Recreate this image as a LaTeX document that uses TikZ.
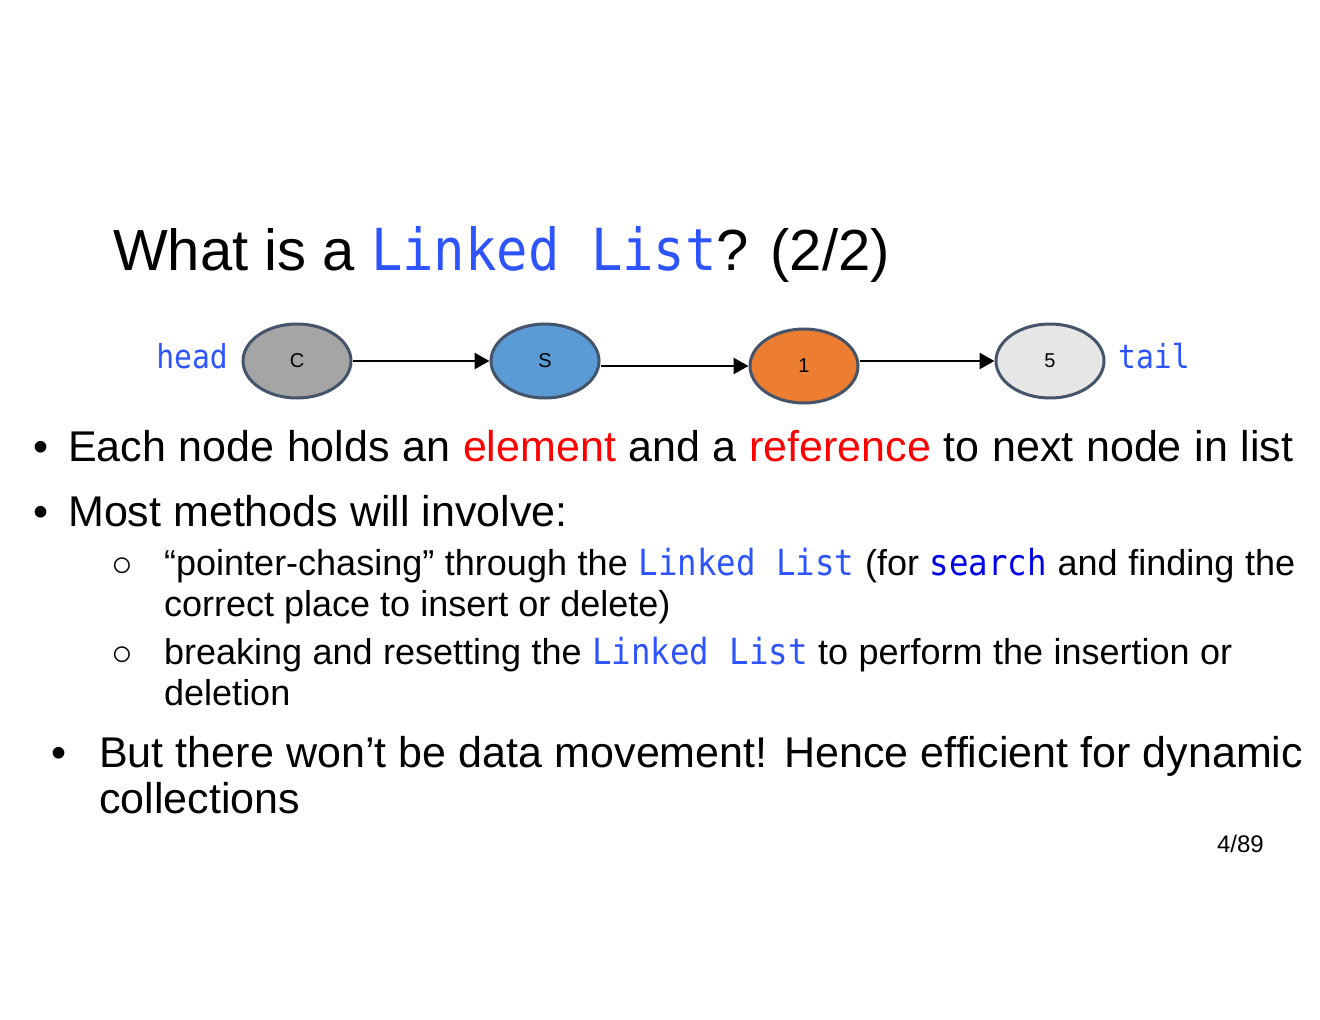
\documentclass[tikz,border=0pt]{standalone}
\usepackage{fontspec}
\setmainfont{Liberation Sans}
\newfontfamily\codefont[FakeStretch=0.9]{DejaVu Sans Mono}
\usetikzlibrary{shapes.geometric,arrows.meta}
\definecolor{listblue}{RGB}{46,84,255}
\definecolor{findblue}{RGB}{0,0,230}
\definecolor{rimgray}{RGB}{68,84,106}
\definecolor{cfill}{RGB}{165,165,165}
\definecolor{sfill}{RGB}{91,155,213}
\definecolor{onefill}{RGB}{237,125,49}
\definecolor{fivefill}{RGB}{231,230,230}
\newcommand{\listcode}[1]{{\codefont\color{listblue}#1}}
\newcommand{\findcode}[1]{{\codefont\color{findblue}#1}}
\begin{document}
\begin{tikzpicture}[x=1pt,y=-1pt,
    elem/.style={ellipse,draw=rimgray,line width=3pt,minimum width=108pt,minimum height=74pt,inner sep=0pt,font=\fontsize{20}{24}\selectfont},
    link/.style={line width=2.8pt,-{Triangle[length=15pt,width=16pt]}},
    txt/.style={anchor=base west,inner sep=0pt},
    big/.style={txt,font=\fontsize{43}{50}\selectfont},
    small/.style={txt,font=\fontsize{36}{42}\selectfont},
    subdot/.style={txt,font=\fontsize{36}{42}\selectfont}]
    \fill[white] (0,0) rectangle (1320,1020);
    \useasboundingbox (0,0) rectangle (1320,1020);
    % title
    \node[txt,font=\fontsize{58}{66}\selectfont] (title) at (113,270) {What is a \listcode{Linked List}? (2/2)};
    % the list
    \node[elem,fill=cfill] (C) at (297,361) {C};
    \node[elem,fill=sfill] (S) at (545,361) {S};
    \node[elem,fill=onefill] (one) at (804,366) {1};
    \node[elem,fill=fivefill] (five) at (1050,361) {5};
    \draw[link] (C) -- (S);
    \draw[link] (S.east |- one) -- (one);
    \draw[link] (one.east |- five) -- (five);
    \node[anchor=base east,inner sep=0pt,font=\fontsize{33}{38}\selectfont] (head) at (228,368) {\listcode{head}};
    \node[txt,font=\fontsize{33}{38}\selectfont] (tail) at (1118,368) {\listcode{tail}};
    % bullets
    \node[big] (dot1) at (33,461) {•};
    \node[big] (line1) at (68,461) {\makebox[1225pt][s]{Each node holds an \textcolor{red}{element} and a \textcolor{red}{reference} to next node in list}};
    \node[big] (dot2) at (33,526) {•};
    \node[big] (line2) at (68,526) {Most methods will involve:};
    \node[subdot] (sub1) at (111,576) {○};
    \node[small] (line3) at (164,575) {\makebox[1131pt][s]{“pointer-chasing” through the \listcode{Linked List} (for \findcode{search} and finding the}};
    \node[small] (line4) at (164,616) {correct place to insert or delete)};
    \node[subdot] (sub2) at (111,665) {○};
    \node[small] (line5) at (164,664) {\makebox[1068pt][s]{breaking and resetting the \listcode{Linked List} to perform the insertion or}};
    \node[small] (line6) at (164,705) {deletion};
    \node[big] (dot3) at (51,767) {•};
    \node[big] (line7) at (99,767) {\makebox[1204pt][s]{But there won’t be data movement! Hence efficient for dynamic}};
    \node[big] (line8) at (99,813) {collections};
    \node[anchor=base east,inner sep=0pt,font=\fontsize{24}{28}\selectfont] (page) at (1264,852) {4/89};
\end{tikzpicture}
\end{document}
